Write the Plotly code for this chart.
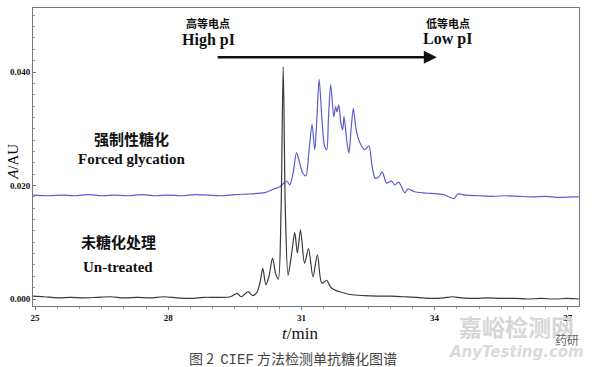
import plotly.graph_objects as go

# ---- data ----
t_untreated = [24.95, 25.2, 25.5, 25.8, 26.1, 26.4, 26.7, 27.0, 27.3, 27.6, 27.9, 28.2, 28.5,
               28.8, 29.1, 29.4, 29.55, 29.65, 29.8, 29.9, 30.0, 30.07, 30.13, 30.2, 30.27,
               30.35, 30.42, 30.48, 30.54, 30.59, 30.64, 30.70, 30.78, 30.85, 30.91, 30.98,
               31.07, 31.16, 31.26, 31.36, 31.46, 31.57, 31.65, 31.75, 31.9, 32.1, 32.4, 32.7,
               33.0, 33.3, 33.6, 33.9, 34.2, 34.4, 34.6, 34.9, 35.2, 35.5, 35.8, 36.1, 36.4,
               36.7, 37.0, 37.25]
a_untreated = [0.0005, 0.0004, 0.0002, 0.0003, 0.0002, 0.0003, 0.0004, 0.0002, 0.0003, 0.0002,
               0.0004, 0.0002, 0.0001, 0.0003, 0.0003, 0.0004, 0.0010, 0.0004, 0.0013, 0.0006,
               0.0012, 0.0030, 0.0054, 0.0025, 0.0040, 0.0072, 0.0045, 0.0035, 0.0150, 0.0409,
               0.0150, 0.0042, 0.0080, 0.0117, 0.0081, 0.0122, 0.0063, 0.0089, 0.0039, 0.0078,
               0.0028, 0.0033, 0.0022, 0.0016, 0.0012, 0.0008, 0.0006, 0.0005, 0.0005, 0.0004,
               0.0003, 0.0001, 0.0002, 0.0004, 0.0002, 0.0001, 0.0002, 0.0001, 0.0001, 0.0000,
               0.0001, 0.0000, 0.0001, 0.0000]

t_forced = [24.95, 25.3, 25.6, 25.9, 26.2, 26.5, 26.8, 27.1, 27.4, 27.7, 28.0, 28.3, 28.6, 28.9,
            29.2, 29.5, 29.8, 30.0, 30.2, 30.35, 30.52, 30.60, 30.67, 30.74, 30.82, 30.89, 30.96,
            31.03, 31.10, 31.17, 31.24, 31.30, 31.35, 31.40, 31.46, 31.52, 31.57, 31.61, 31.66,
            31.73, 31.77, 31.80, 31.84, 31.89, 31.93, 31.96, 32.02, 32.07, 32.12, 32.17, 32.23,
            32.32, 32.43, 32.52, 32.59, 32.66, 32.74, 32.82, 32.92, 33.03, 33.10, 33.19, 33.33,
            33.40, 33.55, 33.75, 33.93, 34.2, 34.44, 34.52, 34.7, 35.0, 35.3, 35.6, 35.9, 36.2,
            36.5, 36.8, 37.1, 37.25]
a_forced = [0.0183, 0.0182, 0.0183, 0.0182, 0.0184, 0.0182, 0.0183, 0.0182, 0.0184, 0.0182,
            0.0183, 0.0182, 0.0184, 0.0183, 0.0182, 0.0184, 0.0185, 0.0186, 0.0188, 0.0193,
            0.0198, 0.0204, 0.0208, 0.0201, 0.0225, 0.0258, 0.0240, 0.0222, 0.0217, 0.0260,
            0.0308, 0.0263, 0.0320, 0.0387, 0.0320, 0.0270, 0.0263, 0.0320, 0.0378, 0.0321,
            0.0339, 0.0330, 0.0342, 0.0310, 0.0298, 0.0322, 0.0280, 0.0257, 0.0300, 0.0336,
            0.0300, 0.0275, 0.0263, 0.0270, 0.0235, 0.0213, 0.0215, 0.0224, 0.0204, 0.0208,
            0.0201, 0.0206, 0.0187, 0.0194, 0.0189, 0.0187, 0.0186, 0.0184, 0.0177, 0.0185,
            0.0183, 0.0182, 0.0181, 0.0182, 0.0181, 0.0180, 0.0181, 0.0179, 0.0180, 0.0180]

x_ticks = [25, 28, 31, 34, 37]
y_ticks = [0.000, 0.020, 0.040]
y_tick_labels = ["0.000", "0.020", "0.040"]

fig = go.Figure()
fig.add_trace(go.Scatter(x=t_forced, y=a_forced, mode="lines",
                         line=dict(color="#5c5cd0", width=1.2, shape="spline", smoothing=0.8),
                         hoverinfo="skip", showlegend=False))
fig.add_trace(go.Scatter(x=t_untreated, y=a_untreated, mode="lines",
                         line=dict(color="#3a3a3a", width=1.2, shape="spline", smoothing=0.8),
                         hoverinfo="skip", showlegend=False))

serif = "Liberation Serif"
cjk = "Noto Sans CJK SC"

ann = []
def txt(x, y, s, size, family, xref="x", yref="y", color="#111", weight="bold",
        xanchor="center", **kw):
    ann.append(dict(x=x, y=y, xref=xref, yref=yref, text=s, showarrow=False,
                    xanchor=xanchor, yanchor="middle",
                    font=dict(size=size, family=family, color=color, weight=weight), **kw))

txt(28.90, 0.0487, "高等电点", 11, cjk)
txt(28.90, 0.0457, "High pI", 16, serif)
txt(34.30, 0.0487, "低等电点", 11, cjk)
txt(34.30, 0.0458, "Low pI", 16, serif)
txt(27.18, 0.0282, "强制性糖化", 15, cjk)
txt(27.18, 0.0246, "Forced glycation", 15, serif)
txt(26.87, 0.0101, "未糖化处理", 15, cjk)
txt(26.87, 0.0056, "Un-treated", 15, serif)

# arrow
ann.append(dict(x=34.05, y=0.0426, ax=29.08, ay=0.0426, xref="x", yref="y", axref="x", ayref="y",
                showarrow=True, arrowhead=2, arrowsize=1.0, arrowwidth=2.6, arrowcolor="#111", text=""))

# axis titles and caption
txt(0.489, -0.091, "<i>t</i>/min", 17, serif, xref="paper", yref="paper", weight="normal")
ann.append(dict(x=-0.037, y=0.483, xref="paper", yref="paper", text="<i>A</i>/AU", showarrow=False,
                textangle=-90, xanchor="center", yanchor="middle",
                font=dict(size=15, family=serif, color="#111")))
txt(0.476, -0.175,
    "图 2  <span style='font-family:Liberation Mono'>CIEF</span> 方法检测单抗糖化图谱",
    14, cjk, xref="paper", yref="paper", color="#444", weight="normal")

# watermark
txt(0.885, -0.066, "嘉峪检测网", 23, cjk, xref="paper", yref="paper", color="#d6d6d6")
txt(0.885, -0.155, "<i>AnyTesting.com</i>", 15, "DejaVu Sans", xref="paper", yref="paper",
    color="#dadada", weight="bold")
txt(0.978, -0.114, "药研", 12, cjk, xref="paper", yref="paper", color="#666", weight="normal")

fig.update_layout(
    width=600, height=367,
    margin=dict(l=33, r=21, t=8, b=61),
    paper_bgcolor="white", plot_bgcolor="white",
    annotations=ann,
    xaxis=dict(range=[24.955, 37.252], tickvals=x_ticks, ticktext=[str(v) for v in x_ticks],
               showgrid=False, zeroline=False, showline=True, linecolor="#777", linewidth=1,
               mirror=True, ticks="outside", ticklen=3, tickcolor="#777",
               minor=dict(ticks="outside", ticklen=2, dtick=0.5, tickcolor="#999"),
               tickfont=dict(family=serif, size=9, color="#111", weight="bold")),
    yaxis=dict(range=[-0.00123, 0.05128], tickvals=y_ticks, ticktext=y_tick_labels,
               showgrid=False, zeroline=False, showline=True, linecolor="#777", linewidth=1,
               mirror=True, ticks="inside", ticklen=3, tickcolor="#777",
               minor=dict(ticks="inside", ticklen=2, dtick=0.002, tickcolor="#999"),
               tickfont=dict(family=serif, size=9, color="#111", weight="bold")),
)

fig.write_html("out.html")
